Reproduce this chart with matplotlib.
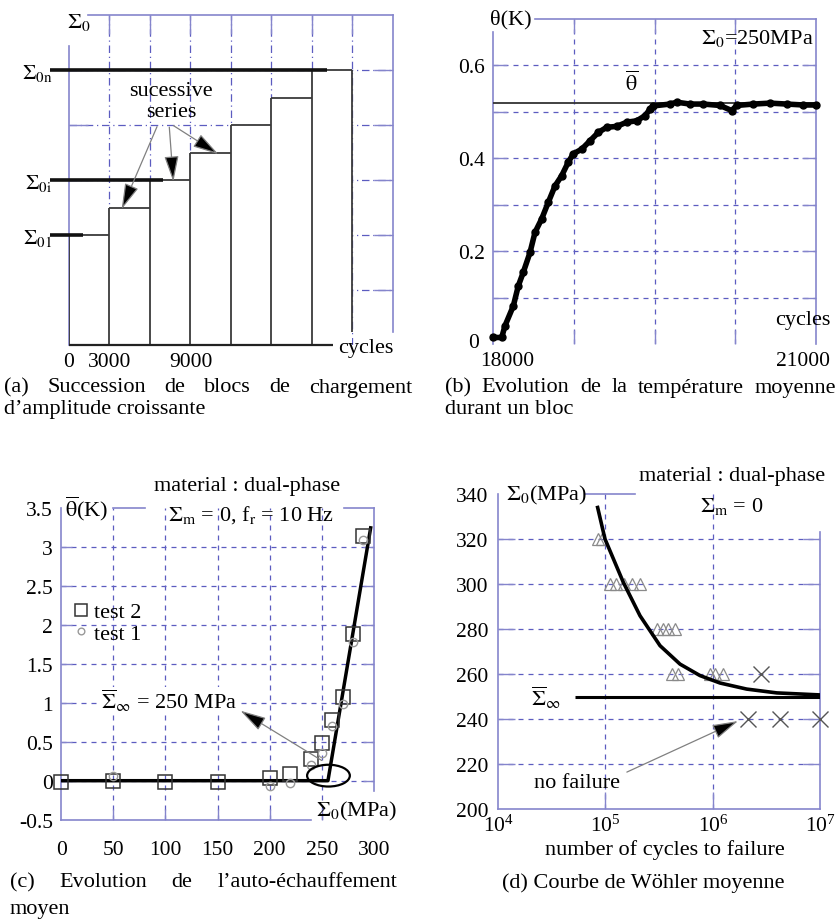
import numpy as np
import matplotlib
matplotlib.use('Agg')
import matplotlib.pyplot as plt
from matplotlib.patches import Ellipse
from matplotlib.ticker import FixedLocator, NullFormatter

W, H = 837, 920

# (a) loading blocks of increasing amplitude
block_start = [0, 3000, 6000, 9000, 12000, 15000, 18000]
block_amp = [2.0, 2.5, 3.0, 3.5, 4.0, 4.5, 5.0]
block_len = 3000
ref_levels = [2.0, 3.0, 5.0]
ref_names = [r'$\Sigma_{\mathrm{01}}$', r'$\Sigma_{\mathrm{0i}}$', r'$\Sigma_{\mathrm{0n}}$']
ref_end = [1040, 6960, 19100]
arrow_tails = [(6520, 3.97), (7430, 3.96), (7730, 3.99)]
arrow_tips = [(3900, 2.47), (7730, 2.97), (11060, 3.47)]

# (b) mean temperature during one block
b_cycles = [18003, 18081, 18111, 18189, 18235, 18281, 18344, 18390, 18452, 18514,
            18576, 18638, 18699, 18746, 18824, 18901, 18978, 19056, 19149, 19242,
            19335, 19412, 19458, 19489, 19644, 19706, 19830, 19953, 20108, 20217,
            20263, 20418, 20573, 20728, 20883, 21000]
b_theta = [0.014, 0.014, 0.039, 0.082, 0.125, 0.154, 0.197, 0.240, 0.269, 0.305,
           0.340, 0.362, 0.391, 0.409, 0.419, 0.437, 0.455, 0.466, 0.468, 0.477,
           0.480, 0.491, 0.505, 0.512, 0.516, 0.520, 0.516, 0.516, 0.513, 0.502,
           0.513, 0.516, 0.518, 0.516, 0.514, 0.514]
theta_bar = 0.518

# (c) self-heating vs stress amplitude
c_stress2 = [0, 50, 100, 150, 200, 220, 240, 250, 260, 270, 280, 290]
c_test2 = [-0.02, -0.01, -0.02, -0.02, 0.04, 0.09, 0.28, 0.49, 0.78, 1.07, 1.89, 3.15]
c_stress1 = [50, 200, 220, 240, 250, 260, 270, 280, 290]
c_test1 = [0.06, -0.07, -0.03, 0.20, 0.36, 0.70, 0.98, 1.78, 3.10]
c_fit_x = [0, 256, 297]
c_fit_y = [0.0, 0.0, 3.25]

# (d) mean Wohler curve
tri_N = [86000, 93000,
         110000, 126000, 148000, 178000, 209000,
         300000, 345000, 385000, 444000,
         413000, 475000, 940000, 1050000, 1250000]
tri_S = [320, 320,
         300, 300, 300, 300, 300,
         280, 280, 280, 280,
         260, 260, 260, 260, 260]
run_N = [2.8e6, 2.1e6, 4.2e6, 1.0e7]
run_S = [260, 240, 240, 240]
curve_N = [84500, 98900, 146600, 209400, 321400, 493200, 756800, 1.161e6, 2.056e6, 3.917e6, 9.9e6]
curve_S = [334, 320, 300.7, 285.9, 272.6, 264.4, 259.3, 256.0, 253.3, 251.6, 250.7]
sigma_inf = 250

plt.rcParams['font.family'] = ['Liberation Serif', 'DejaVu Serif']
plt.rcParams['mathtext.fontset'] = 'stix'
plt.rcParams['font.size'] = 16

BLUE = '#8585cc'
GRID = '#5c5cc0'
INK = '#3a3a3a'
FS = 16
TICK_FS = 15.5
CAP = 16
ARROW = '-|>,head_length=1.0,head_width=0.28'


def px_axes(fig, left, top, right, bottom):
    return fig.add_axes([left / W, 1 - bottom / H, (right - left) / W, (bottom - top) / H])


def ptext(fig, x, y, s, **kw):
    kw.setdefault('ha', 'center')
    kw.setdefault('va', 'center')
    kw.setdefault('fontsize', FS)
    return fig.text(x / W, 1 - y / H, s, **kw)


def blue_frame(ax, xgrid, ygrid, ls, tick_len, sides):
    ax.set_axisbelow(True)
    ax.xaxis.set_minor_locator(FixedLocator(xgrid))
    ax.yaxis.set_minor_locator(FixedLocator(ygrid))
    ax.xaxis.set_minor_formatter(NullFormatter())
    ax.yaxis.set_minor_formatter(NullFormatter())
    ax.xaxis.remove_overlapping_locs = False
    ax.yaxis.remove_overlapping_locs = False
    ax.grid(True, which='minor', color=GRID, lw=0.9, ls=ls)
    ax.grid(False, which='major')
    ax.tick_params(which='minor', direction='in', length=tick_len, width=1.0,
                   color=BLUE, **sides)
    ax.tick_params(which='major', length=0, labelsize=TICK_FS)
    for s in ax.spines.values():
        s.set_color(BLUE)
        s.set_linewidth(1.2)


def arrow(ax, tip, tail):
    ax.annotate('', xy=tip, xytext=tail,
                arrowprops=dict(arrowstyle=ARROW, fc='black', ec='#808080', lw=0.9,
                                shrinkA=0, shrinkB=0, mutation_scale=16), zorder=5)


def justified(fig, words, x0, x1, y):
    texts = [ptext(fig, x0, y, w, ha='left', fontsize=CAP) for w in words]
    r = fig.canvas.get_renderer()
    widths = [t.get_window_extent(r).width for t in texts]
    gap = (x1 - x0 - sum(widths)) / (len(words) - 1)
    x = x0
    for t, w in zip(texts, widths):
        t.set_x(x / W)
        x += w + gap


fig = plt.figure(figsize=(W / 100, H / 100), dpi=100)

# ---------------- (a)
ax = px_axes(fig, 69, 16, 393, 346)
ax.set_xlim(0, 24000)
ax.set_ylim(0, 6)
block_end = [s + block_len for s in block_start]
blue_frame(ax, block_end, [1, 2, 3, 4, 5], (0, (6, 3, 1, 3)), 14,
           dict(top=True, bottom=False, left=True, right=True))
ax.bar(block_start, block_amp, width=block_len, align='edge', color='white',
       edgecolor='none', zorder=1)
ax.vlines(block_start, 0, block_amp, color=INK, lw=1.3, zorder=3)
ax.hlines(block_amp, block_start, block_end, color=INK, lw=1.3, zorder=3)
ax.vlines(block_end[-1], 0.24, block_amp[-1], color=INK, lw=1.3, zorder=3)
ax.hlines(0, 0, 19550, color='#222222', lw=1.6, zorder=3, clip_on=False)
ax.hlines(ref_levels, -1400, ref_end, color='#111111', lw=2.6, zorder=4, clip_on=False)
ax.spines['bottom'].set_visible(False)
ax.spines['left'].set_bounds(0, 5.44)
ax.spines['top'].set_bounds(1400, 24000)
ax.spines['right'].set_bounds(0.24, 6)
ax.set_xticks([0, 3000, 9000], ['0', '3000', '9000'])
ax.set_yticks(ref_levels, ref_names)
ax.tick_params(axis='x', which='major', pad=5)
ax.tick_params(axis='y', which='major', pad=12)
for tail, tip in zip(arrow_tails, arrow_tips):
    arrow(ax, tip, tail)
ptext(fig, 171, 102, 'sucessive\nseries', linespacing=1.1)
ptext(fig, 79, 28, r'$\Sigma_{\mathrm{0}}$', va='baseline')
ptext(fig, 338, 349, 'cycles', ha='left')

# ---------------- (b)
ax = px_axes(fig, 493, 19.5, 816, 345)
ax.set_xlim(18000, 21000)
ax.set_ylim(0, 0.7)
blue_frame(ax, [18750, 19500, 20250], [0.1, 0.2, 0.3, 0.4, 0.5, 0.6], (0, (4, 4)), 10,
           dict(top=True, bottom=True, left=True, right=True))
ax.set_xticks([])
ax.set_yticks([0.2, 0.4, 0.6], ['0.2', '0.4', '0.6'])
ax.tick_params(axis='y', which='major', pad=6)
ax.spines['bottom'].set_visible(False)
ax.spines['left'].set_bounds(0, 0.671)
ax.spines['top'].set_bounds(18390, 21000)
ax.axhline(theta_bar, color='#333333', lw=1.3, zorder=3)
ax.plot(b_cycles, b_theta, color='black', lw=4, marker='o', ms=5,
        solid_joinstyle='round', zorder=4, clip_on=False)
ptext(fig, 511, 20, 'θ(K)')
ptext(fig, 757, 44, r'$\Sigma_{\mathrm{0}}$=250MPa', va='baseline')
ptext(fig, 632, 84, r'$\overline{\mathrm{\theta}}$')
ptext(fig, 803, 321, 'cycles')
ptext(fig, 474, 344, '0', fontsize=TICK_FS)
ptext(fig, 507, 362, '18000', fontsize=TICK_FS)
ptext(fig, 803, 362, '21000', fontsize=TICK_FS)

# ---------------- (c)
ax = px_axes(fig, 61.2, 509.4, 373.8, 820.6)
ax.set_xlim(0, 300)
ax.set_ylim(-0.5, 3.5)
blue_frame(ax, [50, 100, 150, 200, 250], [0, 0.5, 1, 1.5, 2, 2.5, 3], (0, (4, 4)), 8,
           dict(top=False, bottom=True, left=True, right=True))
ax.set_xticks([0, 50, 100, 150, 200, 250, 300])
ax.set_yticks([-0.5, 0, 0.5, 1, 1.5, 2, 2.5, 3, 3.5],
              ['-0.5', '0', '0.5', '1', '1.5', '2', '2.5', '3', '3.5'])
ax.tick_params(axis='x', which='major', pad=15)
ax.tick_params(axis='y', which='major', pad=6)
ax.spines['bottom'].set_bounds(0, 240)
ax.spines['right'].set_bounds(-0.13, 3.5)
ax.spines['top'].set_bounds(50, 80)
ax.plot([271, 300], [3.5, 3.5], color=BLUE, lw=1.2, clip_on=False)
ax.plot(c_fit_x, c_fit_y, color='black', lw=2.5, zorder=4)
ax.plot(c_stress2, c_test2, ls='none', marker='s', ms=10, mfc='none', mec='#333333',
        mew=1.1, label='test 2', zorder=5, clip_on=False)
ax.plot(c_stress1, c_test1, ls='none', marker='o', ms=6, mfc='none', mec='#999999',
        mew=1.0, label='test 1', zorder=5)
ax.legend(loc='upper left', bbox_to_anchor=(0.035, 0.70), frameon=False, fontsize=FS,
          handletextpad=0.2, handlelength=0.8, borderpad=0, borderaxespad=0,
          labelspacing=0.05, markerscale=0.8)
ax.add_patch(Ellipse((256.5, 0.065), 41, 0.28, fill=False, lw=1.6, ec='black', zorder=5))
arrow(ax, (172, 0.9), (250, 0.26))
ptext(fig, 247, 487, 'material : dual-phase')
ptext(fig, 251, 521, r'$\Sigma_{\mathrm{m}}$ = 0, f$_{\mathrm{r}}$ = 10 Hz', va='baseline')
ptext(fig, 87, 509, r'$\overline{\mathrm{\theta}}$(K)')
ptext(fig, 169, 709, r'$\overline{\Sigma}_{\infty}$ = 250 MPa', va='baseline',
      bbox=dict(fc='white', ec='none', pad=0))
ptext(fig, 356, 816, r'$\Sigma_{\mathrm{0}}$(MPa)', va='baseline')

# ---------------- (d)
ax = px_axes(fig, 498, 495, 820.5, 810)
ax.set_xscale('log')
ax.set_xlim(1e4, 1e7)
ax.set_ylim(200, 340)
ax.set_xticks([1e4, 1e5, 1e6, 1e7])
blue_frame(ax, [1e5, 1e6], [220, 240, 260, 280, 300, 320], (0, (4, 4)), 12,
           dict(top=False, bottom=True, left=True, right=True))
ax.set_yticks([200, 220, 240, 260, 280, 300, 320, 340])
ax.tick_params(axis='x', which='major', pad=4)
ax.tick_params(axis='y', which='major', pad=7)
ax.spines['right'].set_bounds(200, 323)
ax.spines['top'].set_bounds(10 ** 4.81, 10 ** 5.274)
ax.plot(curve_N, curve_S, color='black', lw=2.6, zorder=4)
ax.hlines(sigma_inf, 5.25e4, 1e7, color='black', lw=2.2, zorder=4)
ax.plot(tri_N, tri_S, ls='none', marker='^', ms=9, mfc='none', mec='#8a8a8a',
        mew=0.9, zorder=3)
ax.plot(run_N, run_S, ls='none', marker='x', ms=11, mec='#555555', mew=1.0,
        zorder=3, clip_on=False)
arrow(ax, (1.71e6, 239.1), (1.58e5, 216.4))
ptext(fig, 546, 500, r'$\Sigma_{\mathrm{0}}$(MPa)', va='baseline')
ptext(fig, 732, 477, 'material : dual-phase')
ptext(fig, 732, 512, r'$\Sigma_{\mathrm{m}}$ = 0', va='baseline')
ptext(fig, 546, 698, r'$\overline{\Sigma}_{\infty}$')
ptext(fig, 577, 784, 'no failure')
ptext(fig, 665, 850, 'number of cycles to failure')

# ---------------- captions
justified(fig, ['(a)', 'Succession', 'de', 'blocs', 'de', 'chargement'], 4, 412, 388)
ptext(fig, 4, 410, 'd’amplitude croissante', ha='left', fontsize=CAP)
justified(fig, ['(b)', 'Evolution', 'de', 'la', 'température', 'moyenne'], 445, 836, 388)
ptext(fig, 445, 410, 'durant un bloc', ha='left', fontsize=CAP)
justified(fig, ['(c)', 'Evolution', 'de', 'l’auto-échauffement'], 10, 397, 883)
ptext(fig, 10, 910, 'moyen', ha='left', fontsize=CAP)
ptext(fig, 643, 883, '(d) Courbe de Wöhler moyenne', fontsize=CAP)

fig.savefig('out.png', dpi=100)
